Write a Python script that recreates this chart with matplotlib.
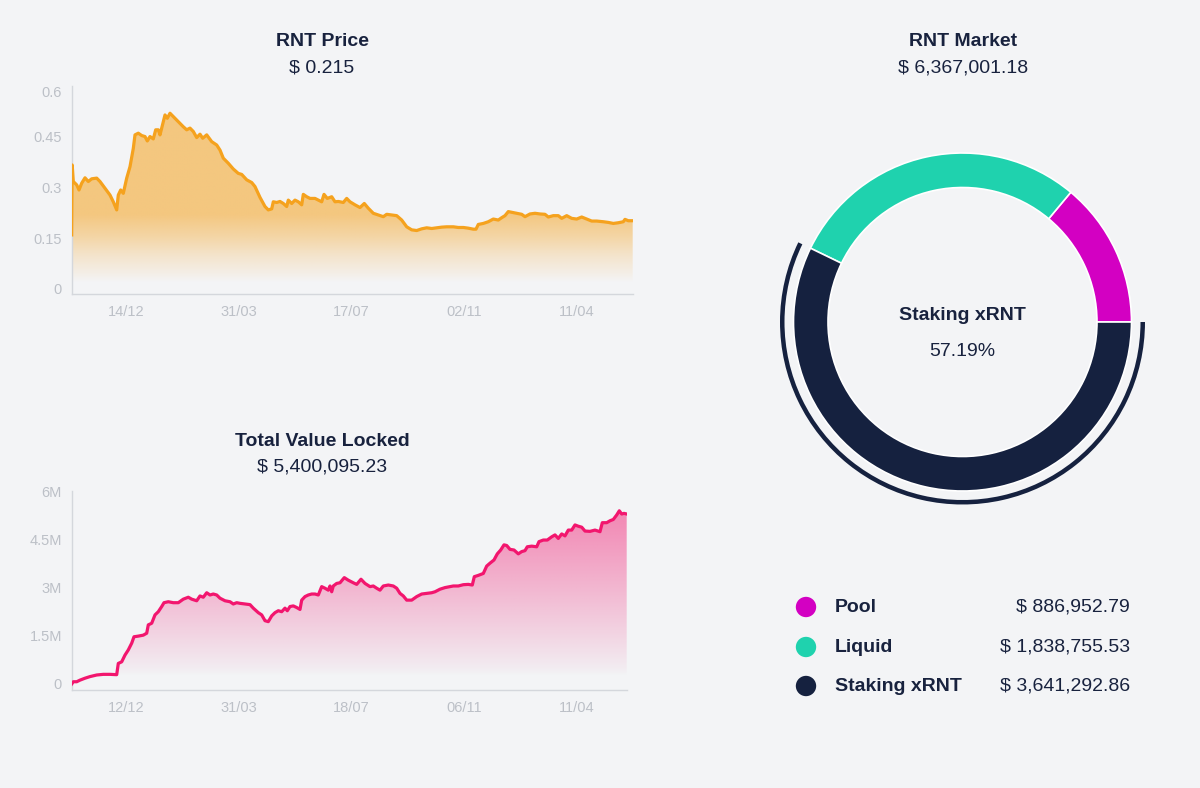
import numpy as np
import matplotlib
matplotlib.use("Agg")
import matplotlib.pyplot as plt
from matplotlib.patches import Polygon, Wedge

plt.rcParams['font.family'] = ['Liberation Sans', 'DejaVu Sans']

# ---------------- data ----------------
price_title = "RNT Price"
price_value_text = "$ 0.215"
tvl_title = "Total Value Locked"
tvl_value_text = "$ 5,400,095.23"
market_title = "RNT Market"

# (day index, price)
price_points = [
    (0, 0.160), (0.5, 0.367), (1.6, 0.318), (5, 0.308), (7.3, 0.293), (10, 0.313), (13.3, 0.329),
    (16.6, 0.318), (20, 0.326), (25, 0.328), (28.3, 0.318), (33.3, 0.298), (38.3, 0.278),
    (41.6, 0.258), (45, 0.234), (46.6, 0.278), (49, 0.293), (51.6, 0.283), (55, 0.328),
    (58.3, 0.362), (61.6, 0.416), (63.3, 0.456), (66.6, 0.461), (70, 0.454), (73.3, 0.451),
    (75.6, 0.438), (78.3, 0.451), (81.6, 0.444), (84, 0.471), (86.6, 0.471), (88.3, 0.456),
    (90, 0.476), (93.3, 0.515), (95.6, 0.505), (98.3, 0.520), (101.6, 0.510), (106.6, 0.495),
    (111.6, 0.480), (115, 0.471), (118.3, 0.476), (121.6, 0.466), (125, 0.448), (128.3, 0.458),
    (131, 0.446), (135, 0.456), (140, 0.436), (145, 0.426), (148.3, 0.411), (151.6, 0.387),
    (156.6, 0.372), (161.6, 0.355), (166.6, 0.342), (170, 0.339), (175, 0.323), (180, 0.315),
    (183.3, 0.303), (188.3, 0.271), (193.3, 0.244), (196.6, 0.234), (200, 0.237), (201.6, 0.258),
    (205, 0.256), (208.3, 0.259), (211.6, 0.253), (215, 0.244), (216.6, 0.263), (220, 0.253),
    (223.3, 0.263), (226.6, 0.258), (230, 0.249), (231.6, 0.280), (235, 0.273), (238.3, 0.268),
    (243.3, 0.268), (246.6, 0.263), (250, 0.258), (252.3, 0.280), (255.6, 0.268), (260, 0.273),
    (263.3, 0.258), (266.6, 0.259), (271.6, 0.256), (275, 0.268), (278.3, 0.258), (283.3, 0.249),
    (288.3, 0.241), (292.6, 0.253), (296.6, 0.239), (301.6, 0.224), (306.6, 0.219), (311.6, 0.214),
    (315, 0.221), (320, 0.219), (325, 0.217), (330, 0.204), (335, 0.184), (340, 0.175),
    (345, 0.173), (350, 0.178), (355, 0.181), (360, 0.179), (365, 0.181), (370, 0.183),
    (375, 0.184), (381.6, 0.184), (386.6, 0.182), (391.6, 0.182), (396.6, 0.180), (401.6, 0.177),
    (404.3, 0.177), (406.6, 0.191), (411.6, 0.194), (416.6, 0.199), (421.6, 0.207), (426.6, 0.204),
    (430, 0.211), (433.3, 0.217), (436.6, 0.229), (440, 0.227), (445, 0.224), (450, 0.221),
    (453.3, 0.214), (458.3, 0.222), (463.3, 0.224), (468.3, 0.222), (473.3, 0.221), (476.6, 0.213),
    (481.6, 0.217), (486.6, 0.217), (490, 0.209), (495, 0.217), (500, 0.209), (505, 0.207),
    (510, 0.213), (515, 0.207), (520, 0.201), (525, 0.201), (531.6, 0.199), (536.6, 0.197),
    (541.6, 0.194), (546.6, 0.196), (551.6, 0.199), (553.3, 0.206), (556.6, 0.202), (561, 0.202),
]

# (day index, TVL in millions of $)
tvl_points = [
    (0, 0.0), (1.6, 0.07), (5, 0.07), (8.3, 0.12), (13.3, 0.18), (18.3, 0.23), (25, 0.28),
    (31.6, 0.30), (38.3, 0.30), (45, 0.29), (46.6, 0.64), (50, 0.69), (53.3, 0.90), (56.6, 1.06),
    (60, 1.27), (62.3, 1.47), (66.6, 1.49), (71.6, 1.52), (75, 1.58), (76.6, 1.84), (80, 1.89),
    (83.3, 2.15), (86.6, 2.25), (90, 2.41), (92.3, 2.53), (96.6, 2.56), (101.6, 2.53),
    (106.6, 2.53), (111.6, 2.64), (116.6, 2.70), (120, 2.64), (125, 2.59), (128.3, 2.74),
    (131.6, 2.70), (135, 2.84), (138.3, 2.77), (141.6, 2.80), (145, 2.77), (148.3, 2.67),
    (153.3, 2.59), (158.3, 2.56), (161.6, 2.49), (165, 2.53), (168.3, 2.51), (173.3, 2.49),
    (178.3, 2.47), (181.6, 2.36), (186.6, 2.22), (190, 2.15), (193.3, 1.97), (196.6, 1.94),
    (200, 2.12), (203.3, 2.22), (206.6, 2.28), (210, 2.25), (213.3, 2.36), (215.6, 2.28),
    (218.3, 2.41), (221.6, 2.43), (225, 2.38), (228.3, 2.32), (230, 2.61), (233.3, 2.72),
    (236.6, 2.77), (240, 2.80), (243.3, 2.80), (246.6, 2.77), (250, 3.03), (253.3, 2.98),
    (256.6, 2.92), (258.3, 3.05), (260, 2.87), (261.6, 3.05), (265, 3.13), (268.3, 3.15),
    (272.6, 3.31), (276.6, 3.23), (281.6, 3.15), (285, 3.10), (289.3, 3.26), (293.3, 3.13),
    (298.3, 3.03), (301.6, 3.05), (305, 2.98), (308.3, 2.92), (311.6, 3.05), (316.6, 3.08),
    (321.6, 3.05), (325, 2.98), (328.3, 2.82), (331.6, 2.74), (335, 2.61), (340, 2.61),
    (345, 2.72), (350, 2.80), (355, 2.82), (360, 2.84), (363.3, 2.87), (368.3, 2.95),
    (373.3, 3.00), (378.3, 3.03), (381.6, 3.05), (386.6, 3.05), (391.6, 3.09), (396.6, 3.10),
    (400.6, 3.08), (402.6, 3.34), (406.6, 3.38), (411.6, 3.44), (415, 3.67), (418.3, 3.76),
    (422.3, 3.86), (425.6, 4.05), (429, 4.17), (432.3, 4.33), (435, 4.31), (438.3, 4.19),
    (442.3, 4.17), (446.6, 4.05), (450, 4.12), (453.3, 4.15), (455.6, 4.27), (460, 4.29),
    (465, 4.27), (467.3, 4.43), (471.6, 4.48), (475.6, 4.48), (480, 4.58), (483.3, 4.64),
    (486.6, 4.53), (490, 4.67), (493.3, 4.61), (496.6, 4.79), (500, 4.79), (503.3, 4.95),
    (506.6, 4.91), (510, 4.88), (513.3, 4.76), (518.3, 4.75), (523.3, 4.79), (528.3, 4.74),
    (530.6, 5.02), (535, 5.02), (538.3, 5.08), (541.6, 5.12), (545, 5.26), (547.6, 5.39),
    (550, 5.29), (552.3, 5.31), (555, 5.29),
]

tick_days = [54, 167, 280, 392, 505]
price_xlabels = ['14/12', '31/03', '17/07', '02/11', '11/04']
tvl_xlabels = ['12/12', '31/03', '18/07', '06/11', '11/04']
price_yticks = [0, 0.15, 0.3, 0.45, 0.6]
price_ylabels = ['0', '0.15', '0.3', '0.45', '0.6']
tvl_yticks = [0, 1.5, 3, 4.5, 6]
tvl_ylabels = ['0', '1.5M', '3M', '4.5M', '6M']

market_labels = ['Pool', 'Liquid', 'Staking xRNT']
market_values = [886952.79, 1838755.53, 3641292.86]
market_colors = ['#D300C2', '#1FD2AE', '#15213F']
highlight_index = 2

# ---------------- style ----------------
BG = '#F3F4F6'
DARK = '#18223E'
TICK = '#BCC0C7'
SPINE = '#D4D7DC'
ORANGE = '#F5A21E'
PINK = '#F2166E'

W, H = 1200, 788
fig = plt.figure(figsize=(W / 100, H / 100), dpi=100, facecolor=BG)


def fx(x):
    return x / W


def fy(y):
    return 1 - y / H


def gradient_fill(ax, xs, ys, base, top, rgb, alpha_x, alpha_y):
    verts = [(xs[0], base)] + list(zip(xs, ys)) + [(xs[-1], base)]
    poly = Polygon(verts, closed=True, facecolor='none', edgecolor='none')
    ax.add_patch(poly)
    n = 400
    levels = np.linspace(base, top, n)
    img = np.zeros((n, 2, 4))
    img[:, :, 0] = rgb[0]
    img[:, :, 1] = rgb[1]
    img[:, :, 2] = rgb[2]
    img[:, :, 3] = np.interp(levels, alpha_x, alpha_y)[:, None]
    im = ax.imshow(img, aspect='auto', origin='lower',
                   extent=[xs[0], xs[-1], base, top], zorder=1, interpolation='bilinear')
    im.set_clip_path(poly)


def style_axis(ax):
    ax.set_facecolor('none')
    for s in ['top', 'right']:
        ax.spines[s].set_visible(False)
    for s in ['left', 'bottom']:
        ax.spines[s].set_color(SPINE)
        ax.spines[s].set_linewidth(1)
    ax.tick_params(axis='both', length=0, labelcolor=TICK, labelsize=10.5)
    ax.tick_params(axis='y', pad=7)
    ax.tick_params(axis='x', pad=8)


# ---------------- price chart ----------------
p_lo, p_hi = -0.0148, 0.6
ax1 = fig.add_axes([fx(71.7), fy(294), fx(632.7) - fx(71.7), fy(86.2) - fy(294)])
px = [p[0] for p in price_points]
py = [p[1] for p in price_points]
gradient_fill(ax1, px, py, p_lo, p_hi, (245 / 255, 162 / 255, 30 / 255),
              [p_lo, 0.02, 0.05, 0.10, 0.15, 0.22, 0.6],
              [0.0, 0.0, 0.08, 0.2, 0.36, 0.55, 0.55])
ax1.plot(px, py, color=ORANGE, lw=2.3, zorder=3, solid_joinstyle='round')
ax1.set_xlim(px[0], px[-1])
ax1.set_ylim(p_lo, p_hi)
ax1.set_xticks(tick_days, price_xlabels)
ax1.set_yticks(price_yticks, price_ylabels)
style_axis(ax1)
ax1.get_yticklabels()[-1].set_va('top')

# ---------------- TVL chart ----------------
t_lo, t_hi = -0.187, 6.0
ax2 = fig.add_axes([fx(71.7), fy(690), fx(626.7) - fx(71.7), fy(491.2) - fy(690)])
tx = [p[0] for p in tvl_points]
ty = [p[1] for p in tvl_points]
gradient_fill(ax2, tx, ty, t_lo, t_hi, (242 / 255, 22 / 255, 110 / 255),
              [t_lo, 0.25, 0.5, 1.5, 3.0, 5.0, 6.0],
              [0.0, 0.0, 0.04, 0.14, 0.28, 0.46, 0.52])
ax2.plot(tx, ty, color=PINK, lw=2.3, zorder=3, solid_joinstyle='round')
ax2.set_xlim(tx[0], tx[-1])
ax2.set_ylim(t_lo, t_hi)
ax2.set_xticks(tick_days, tvl_xlabels)
ax2.set_yticks(tvl_yticks, tvl_ylabels)
style_axis(ax2)

# ---------------- titles ----------------
total = sum(market_values)
fig.text(fx(322), fy(42), price_title, ha='center', va='center', fontsize=14, fontweight='bold', color=DARK)
fig.text(fx(322), fy(68), price_value_text, ha='center', va='center', fontsize=14, color=DARK)
fig.text(fx(322), fy(442), tvl_title, ha='center', va='center', fontsize=14, fontweight='bold', color=DARK)
fig.text(fx(322), fy(467), tvl_value_text, ha='center', va='center', fontsize=14, color=DARK)
fig.text(fx(963), fy(42), market_title, ha='center', va='center', fontsize=14, fontweight='bold', color=DARK)
fig.text(fx(963), fy(68), f"$ {total:,.2f}", ha='center', va='center', fontsize=14, color=DARK)

# ---------------- donut ----------------
cxp, cyp, half = 962.5, 322, 210
ax3 = fig.add_axes([fx(cxp - half), fy(cyp + half), 2 * half / W, 2 * half / H])
ax3.pie(market_values, colors=market_colors, startangle=0, counterclock=True,
        radius=169, wedgeprops=dict(width=34.5, edgecolor='white', linewidth=1.2))
start_hl = 360 * sum(market_values[:highlight_index]) / total
end_hl = 360 * sum(market_values[:highlight_index + 1]) / total
ax3.add_patch(Wedge((0, 0), 182.5, start_hl, end_hl, width=4.5,
                    facecolor=market_colors[highlight_index], edgecolor='none'))
ax3.set_xlim(-half, half)
ax3.set_ylim(-half, half)
ax3.set_aspect('equal')
ax3.axis('off')
ax3.text(0, 7, market_labels[highlight_index], ha='center', va='center',
         fontsize=14, fontweight='bold', color=DARK)
ax3.text(0, -30, f"{100 * market_values[highlight_index] / total:.2f}%", ha='center', va='center',
         fontsize=14, color=DARK)

# ---------------- legend ----------------
ax4 = fig.add_axes([fx(760), fy(720), fx(1180) - fx(760), fy(580) - fy(720)])
ax4.set_xlim(760, 1180)
ax4.set_ylim(720, 580)
ax4.axis('off')
row_y = [607, 647, 686]
for lab, val, col, yy in zip(market_labels, market_values, market_colors, row_y):
    ax4.scatter([806], [yy], s=215, color=col, edgecolors='none')
    ax4.text(835, yy, lab, ha='left', va='center', fontsize=14, fontweight='bold', color=DARK)
    ax4.text(1130, yy, f"$ {val:,.2f}", ha='right', va='center', fontsize=14, color=DARK)

fig.savefig('out.png', dpi=100, facecolor=BG)
